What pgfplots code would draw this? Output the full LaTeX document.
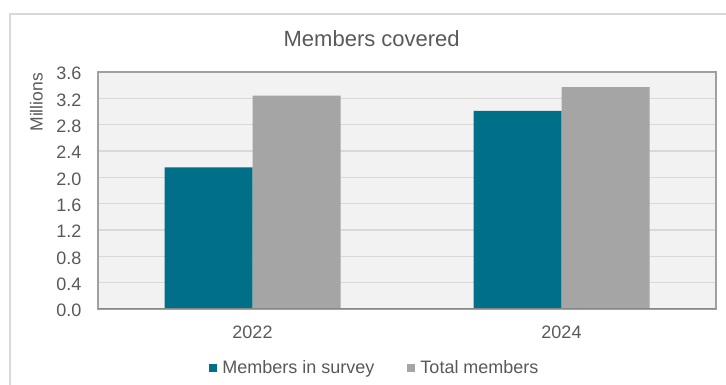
\documentclass[border=0pt]{standalone}
\usepackage{fontspec}
\setmainfont{Liberation Sans}
\usepackage{pgfplots}
\pgfplotsset{compat=1.18}
\definecolor{teal1}{RGB}{0,112,137}
\definecolor{gbar}{RGB}{165,165,165}
\definecolor{txt}{RGB}{89,89,89}
\definecolor{bg}{RGB}{242,242,242}
\definecolor{gridc}{RGB}{217,217,217}
\definecolor{framec}{RGB}{160,160,160}
\definecolor{outerc}{RGB}{217,217,217}
\definecolor{baxis}{RGB}{137,137,137}
\begin{document}
\begin{tikzpicture}[x=1pt,y=1pt]
\path[use as bounding box] (0,0) rectangle (726,385);
\draw[outerc, line width=1.2pt] (10,0) -- (10,371) -- (726,371);
\node[anchor=base, text=txt, font=\fontsize{22}{26}\selectfont, inner sep=0pt] at (371.7,338) {Members covered};
\begin{axis}[
  at={(98pt,76pt)}, anchor=south west,
  width=618pt, height=237pt, scale only axis,
  xmin=-0.5, xmax=1.5, ymin=0, ymax=3.6,
  xtick={0,1}, xticklabels={2022,2024},
  ytick={0,0.4,0.8,1.2,1.6,2.0,2.4,2.8,3.2,3.6},
  /pgf/number format/.cd, fixed, fixed zerofill, precision=1, assume math mode=true, /pgfplots/.cd,
  major tick length=0pt,
  ticklabel style={font=\fontsize{18}{21}\selectfont, text=txt, inner sep=0pt},
  xticklabel style={yshift=-16.4pt},
  yticklabel style={xshift=-16.3pt, yshift=-1.5pt},
  ylabel={Millions},
  ylabel style={at={(axis description cs:-0.0895,0.996)}, anchor=base east, inner sep=0pt, font=\fontsize{17.5}{21}\selectfont, text=txt},
  ymajorgrids, grid style={gridc, line width=1.2pt},
  axis background/.style={fill=bg},
  axis line style={framec, line width=1.2pt},
  ybar=0pt, bar width=88pt,
  legend style={at={(axis description cs:0.180,-0.247)}, anchor=west, legend columns=2, draw=none, fill=none, inner sep=0pt, font=\fontsize{18}{21}\selectfont, text=txt, /tikz/every even column/.append style={column sep=31pt}},
  legend cell align=left,
  legend image code/.code={\fill[#1] (0pt,-4pt) rectangle (8pt,4pt); \path (11pt,0pt);},
]
\addplot[fill=teal1, draw=none] coordinates {(0,2.15) (1,3.01)};
\addlegendentry{Members in survey}
\addplot[fill=gbar, draw=none] coordinates {(0,3.24) (1,3.37)};
\addlegendentry{Total members}
\draw[baxis, line width=2pt] (rel axis cs:0,0) -- (rel axis cs:1,0);
\end{axis}
\end{tikzpicture}
\end{document}
